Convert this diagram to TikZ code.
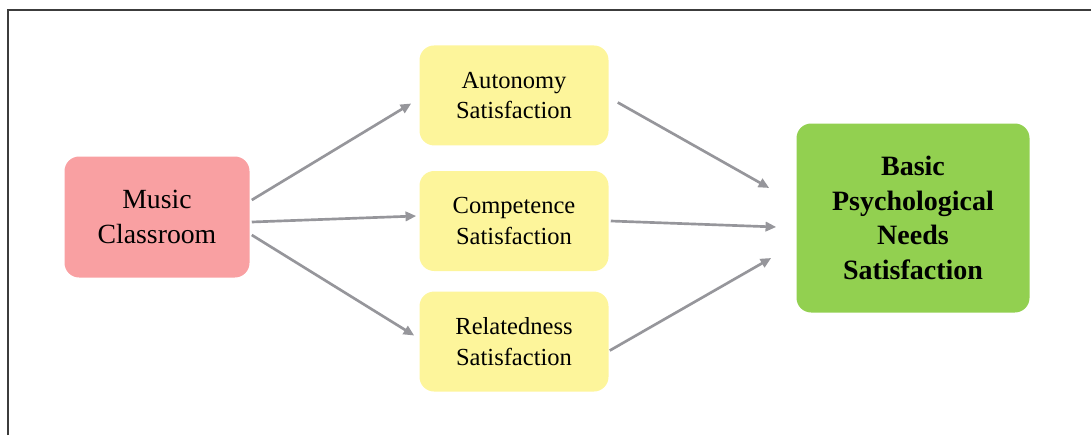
\documentclass[tikz,border=0pt]{standalone}
\usepackage{fontspec}
\setmainfont{Liberation Serif}
\usetikzlibrary{arrows.meta,positioning}

\definecolor{musicpink}{RGB}{249,160,162}
\definecolor{needyellow}{RGB}{253,245,155}
\definecolor{goalgreen}{RGB}{146,208,80}
\definecolor{linkgray}{RGB}{150,150,155}
\definecolor{framegray}{RGB}{60,60,60}

\begin{document}
\begin{tikzpicture}[x=0.75pt,y=-0.75pt,>={Triangle[length=8pt,width=7pt]},
  box/.style={rounded corners=11pt,align=center,inner sep=0pt},
  srcbox/.style={box,fill=musicpink,minimum width=138.75pt,minimum height=90.75pt,
    font=\fontsize{20.8}{26}\selectfont},
  needbox/.style={box,fill=needyellow,minimum width=141.75pt,minimum height=75pt,
    font=\fontsize{18.4}{23}\selectfont},
  goalbox/.style={box,fill=goalgreen,minimum width=174.75pt,minimum height=141.75pt,
    font=\fontsize{21}{26}\selectfont\bfseries},
  link/.style={->,draw=linkgray,fill=linkgray,line width=2pt}]

    \useasboundingbox (0,0) rectangle (1091,435);
    \draw[framegray,line width=1.2pt] (8,435) -- (8,10) -- (1091,10);

    \node[srcbox] (music) at (157,217) {Music\\Classroom};

    \node[needbox] (comp) at (514,221) {Competence\\Satisfaction};

    \node[needbox] (auto) [above=18.75pt of comp] {Autonomy\\Satisfaction};

    \node[needbox] (rel) [below=15pt of comp] {Relatedness\\Satisfaction};

    \node[goalbox] (basic) at (913,218) {Basic\\Psychological\\Needs\\Satisfaction};

    \draw[link] ([shift={(2,-17)}]music.east) -- ([shift={(-8,8)}]auto.west);
    \draw[link] ([shift={(2,5)}]music.east) -- ([shift={(-3,-5)}]comp.west);
    \draw[link] ([shift={(2,18)}]music.east) -- ([shift={(-5,-6)}]rel.west);

    \draw[link] ([shift={(9,7)}]auto.east) -- ([shift={(-27,-30)}]basic.west);
    \draw[link] ([shift={(2,0)}]comp.east) -- ([shift={(-20,9)}]basic.west);
    \draw[link] ([shift={(1,9)}]rel.east) -- ([shift={(-25,40)}]basic.west);

\end{tikzpicture}
\end{document}
